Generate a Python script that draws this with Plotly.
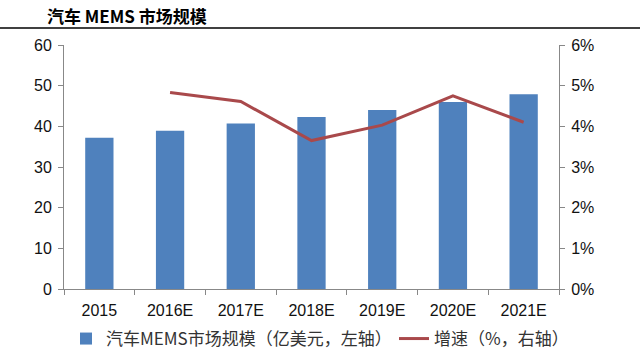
import plotly.graph_objects as go

categories = ["2015", "2016E", "2017E", "2018E", "2019E", "2020E", "2021E"]
market_size = [37.2, 38.9, 40.7, 42.3, 44.0, 46.0, 47.9]
growth_cats = ["2016E", "2017E", "2018E", "2019E", "2020E", "2021E"]
growth_pct = [4.83, 4.61, 3.65, 4.03, 4.75, 4.10]
left_ticks = [0, 10, 20, 30, 40, 50, 60]
right_ticks = [0, 1, 2, 3, 4, 5, 6]
right_labels = [f"{v}%" for v in right_ticks]

W, H = 640, 356
L, R, T, B = 64, 81, 45, 67
pw, ph = W - L - R, H - T - B

fig = go.Figure()
fig.add_trace(go.Bar(
    x=categories, y=market_size, name="汽车MEMS市场规模（亿美元，左轴）",
    marker=dict(color="#4F81BD", line=dict(width=0)), width=0.4, yaxis="y",
    legend="legend",
))
fig.add_trace(go.Scatter(
    x=growth_cats, y=growth_pct, name="增速（%，右轴）", mode="lines",
    line=dict(color="#A9494B", width=3), yaxis="y2", legend="legend2",
))

axis_font = dict(family="Liberation Sans, Arial, sans-serif", size=16, color="#111111")
legend_font = dict(family="Noto Sans CJK SC", size=17, color="#333333")
leg_y = -(339 - (T + ph)) / ph
fig.update_layout(
    width=W, height=H,
    margin=dict(l=L, r=R, t=T, b=B, autoexpand=False),
    paper_bgcolor="white", plot_bgcolor="white",
    showlegend=True,
    legend=dict(orientation="h", x=(66 - L) / pw, xanchor="left",
                y=leg_y, yanchor="middle", font=legend_font, itemwidth=30,
                bgcolor="rgba(0,0,0,0)"),
    legend2=dict(orientation="h", x=(394 - L) / pw, xanchor="left",
                 y=leg_y, yanchor="middle", font=legend_font, itemwidth=30,
                 bgcolor="rgba(0,0,0,0)"),
    xaxis=dict(type="category", showline=True, linecolor="#888888", linewidth=1,
               ticks="outside", tickson="boundaries", ticklen=5, tickcolor="#888888",
               showgrid=False, tickfont=axis_font, ticklabelstandoff=7),
    yaxis=dict(range=[0, 60], tickvals=left_ticks, showline=True, linecolor="#888888",
               linewidth=1, ticks="outside", ticklen=5, tickcolor="#888888",
               showgrid=False, zeroline=False, tickfont=axis_font, ticklabelstandoff=3),
    yaxis2=dict(range=[0, 6], tickvals=right_ticks, ticktext=right_labels, overlaying="y",
                side="right", showline=True, linecolor="#888888", linewidth=1,
                ticks="outside", ticklen=5, tickcolor="#888888", showgrid=False,
                zeroline=False, tickfont=axis_font, ticklabelstandoff=3),
)
fig.add_annotation(text="<b>汽车 MEMS 市场规模</b>", xref="paper", yref="paper",
                   x=(45 - L) / pw, xanchor="left", y=(T + ph - 16) / ph, yanchor="middle",
                   showarrow=False,
                   font=dict(family="Noto Sans CJK SC", size=17, color="#000000"))
fig.add_shape(type="line", xref="paper", yref="paper",
              x0=-L / pw, x1=(W - L) / pw, y0=(T + ph - 28) / ph, y1=(T + ph - 28) / ph,
              line=dict(color="#000000", width=1.5))

fig.write_html("out.html", config={"displayModeBar": False},
               post_script="document.body.style.margin='0';document.body.style.overflow='hidden';")
